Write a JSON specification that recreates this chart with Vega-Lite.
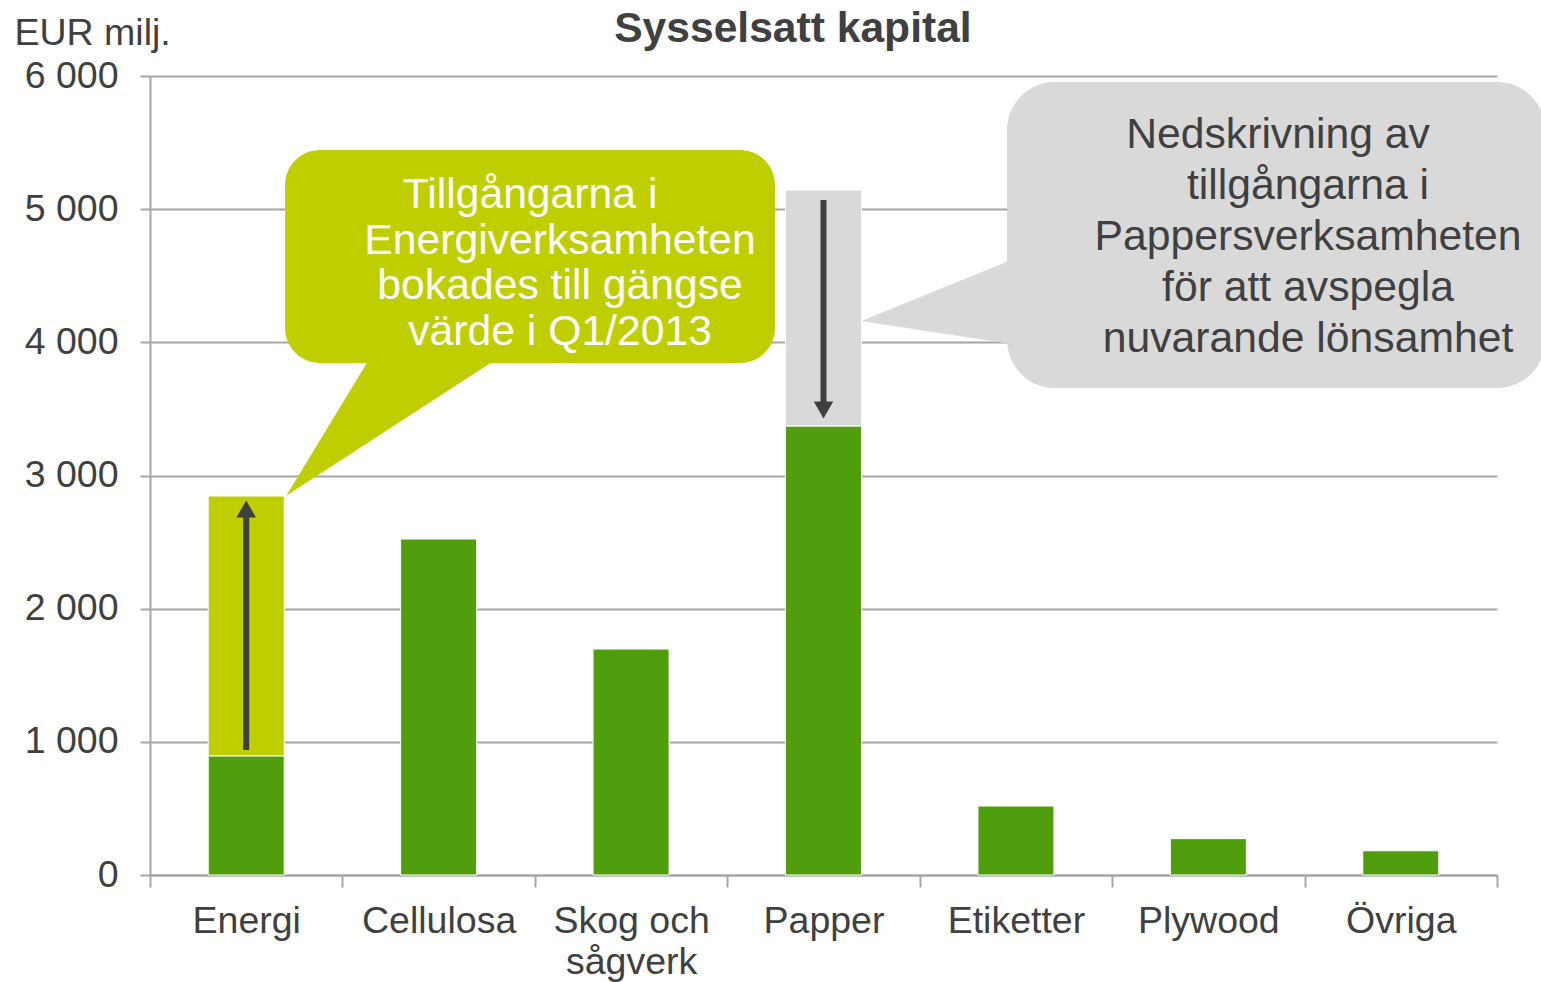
{
  "$schema": "https://vega.github.io/schema/vega-lite/v6.json",
  "width": 1347,
  "height": 799,
  "autosize": {"type": "none"},
  "padding": {"left": 150, "top": 76, "right": 44, "bottom": 107},
  "background": "white",
  "config": {"view": {"stroke": null}, "font": "Liberation Sans"},
  "datasets": {
    "bars": [
      {"cat": "Energi", "lo": 0, "hi": 895, "part": "Bokfört"},
      {"cat": "Energi", "lo": 895, "hi": 2846, "part": "Omvärdering"},
      {"cat": "Cellulosa", "lo": 0, "hi": 2523, "part": "Bokfört"},
      {"cat": "Skog och sågverk", "lo": 0, "hi": 1697, "part": "Bokfört"},
      {"cat": "Papper", "lo": 0, "hi": 3372, "part": "Bokfört"},
      {"cat": "Papper", "lo": 3372, "hi": 5144, "part": "Nedskrivning"},
      {"cat": "Etiketter", "lo": 0, "hi": 518, "part": "Bokfört"},
      {"cat": "Plywood", "lo": 0, "hi": 273, "part": "Bokfört"},
      {"cat": "Övriga", "lo": 0, "hi": 182, "part": "Bokfört"}
    ],
    "boxes": [
      {"id": "green", "u0": 0.702, "u1": 3.248, "v0": 3845, "v1": 5444},
      {"id": "grey", "u0": 4.454, "u1": 7.25, "v0": 3657, "v1": 5955}
    ],
    "pointers": [
      {"id": "green", "o": 1, "u": 1.151, "v": 3900},
      {"id": "green", "o": 2, "u": 1.826, "v": 3900},
      {"id": "green", "o": 3, "u": 0.712, "v": 2853},
      {"id": "grey", "o": 1, "u": 4.6, "v": 4689},
      {"id": "grey", "o": 2, "u": 3.7, "v": 4160},
      {"id": "grey", "o": 3, "u": 4.6, "v": 3963}
    ],
    "arrows": [
      {"id": "up", "u": 0.5, "v0": 939, "v1": 2726, "hv": 2748, "shape": "triangle-up"},
      {"id": "down", "u": 3.5, "v0": 5069, "v1": 3530, "hv": 3492, "shape": "triangle-down"}
    ],
    "notes": [
      {"id": "green", "u": 1.975, "v": 5009, "t": "Tillgångarna i"},
      {"id": "green", "u": 2.131, "v": 4667, "t": "Energiverksamheten\nbokades till gängse\nvärde i Q1/2013"},
      {"id": "grey", "u": 5.862, "v": 5459, "t": "Nedskrivning av"},
      {"id": "grey", "u": 6.018, "v": 5076, "t": "tillgångarna i\nPappersverksamheten\nför att avspegla\nnuvarande lönsamhet"}
    ],
    "heading": [
      {"u": 3.341, "v": 6255, "t": "Sysselsatt kapital"}
    ]
  },
  "layer": [
    {
      "data": {"name": "bars"},
      "mark": {"type": "bar", "stroke": "white", "strokeWidth": 1, "width": {"band": 0.395}},
      "encoding": {
        "x": {
          "field": "cat", "type": "nominal",
          "sort": ["Energi", "Cellulosa", "Skog och sågverk", "Papper", "Etiketter", "Plywood", "Övriga"],
          "scale": {"paddingInner": 0, "paddingOuter": 0},
          "axis": {
            "title": null, "labelAngle": 0, "labelFontSize": 37.5, "labelColor": "#404040",
            "labelPadding": 15, "labelLineHeight": 41, "tickBand": "extent", "tickSize": 12,
            "tickColor": "#A6A6A6", "tickWidth": 2, "domainColor": "#A6A6A6", "domainWidth": 2,
            "labelExpr": "datum.label == 'Skog och sågverk' ? ['Skog och', 'sågverk'] : datum.label",
            "grid": false
          }
        },
        "y": {
          "field": "lo", "type": "quantitative",
          "scale": {"domain": [0, 6000], "nice": false},
          "axis": {
            "values": [0, 1000, 2000, 3000, 4000, 5000, 6000],
            "labelExpr": "datum.value >= 1000 ? format(datum.value / 1000, 'd') + ' 000' : '0'",
            "labelFontSize": 37.5, "labelColor": "#404040", "labelPadding": 22,
            "tickSize": 10, "tickColor": "#A6A6A6", "tickWidth": 2,
            "domainColor": "#A6A6A6", "domainWidth": 2,
            "grid": true, "gridColor": "#A6A6A6", "gridWidth": 2,
            "title": "EUR milj.", "titleAngle": 0, "titleAlign": "left", "titleBaseline": "alphabetic",
            "titleX": -136, "titleY": -32, "titleFontSize": 37.5, "titleFontWeight": "normal", "titleColor": "#404040"
          }
        },
        "y2": {"field": "hi"},
        "color": {
          "field": "part", "type": "nominal",
          "scale": {"domain": ["Bokfört", "Omvärdering", "Nedskrivning"], "range": ["#509E0D", "#BFCE00", "#D9D9D9"]},
          "legend": null
        }
      }
    },
    {
      "data": {"name": "pointers"},
      "transform": [{"filter": "datum.id == 'green'"}],
      "mark": {"type": "line", "interpolate": "linear-closed", "fill": "#BFCE00", "stroke": "#BFCE00", "strokeWidth": 0.5},
      "encoding": {
        "x": {"field": "u", "type": "quantitative", "scale": {"domain": [0, 7], "nice": false, "zero": false}, "axis": null},
        "y": {"field": "v", "type": "quantitative", "scale": {"domain": [0, 6000], "nice": false}, "axis": null},
        "order": {"field": "o"}
      }
    },
    {
      "data": {"name": "boxes"},
      "transform": [{"filter": "datum.id == 'green'"}],
      "mark": {"type": "rect", "color": "#BFCE00", "cornerRadius": 35},
      "encoding": {
        "x": {"field": "u0", "type": "quantitative", "scale": {"domain": [0, 7], "nice": false, "zero": false}, "axis": null},
        "x2": {"field": "u1"},
        "y": {"field": "v0", "type": "quantitative", "scale": {"domain": [0, 6000], "nice": false}, "axis": null},
        "y2": {"field": "v1"}
      }
    },
    {
      "data": {"name": "pointers"},
      "transform": [{"filter": "datum.id == 'grey'"}],
      "mark": {"type": "line", "interpolate": "linear-closed", "fill": "#D9D9D9", "stroke": "#D9D9D9", "strokeWidth": 0.5},
      "encoding": {
        "x": {"field": "u", "type": "quantitative", "scale": {"domain": [0, 7], "nice": false, "zero": false}, "axis": null},
        "y": {"field": "v", "type": "quantitative", "scale": {"domain": [0, 6000], "nice": false}, "axis": null},
        "order": {"field": "o"}
      }
    },
    {
      "data": {"name": "boxes"},
      "transform": [{"filter": "datum.id == 'grey'"}],
      "mark": {"type": "rect", "color": "#D9D9D9", "cornerRadius": 48},
      "encoding": {
        "x": {"field": "u0", "type": "quantitative", "scale": {"domain": [0, 7], "nice": false, "zero": false}, "axis": null},
        "x2": {"field": "u1"},
        "y": {"field": "v0", "type": "quantitative", "scale": {"domain": [0, 6000], "nice": false}, "axis": null},
        "y2": {"field": "v1"}
      }
    },
    {
      "data": {"name": "arrows"},
      "mark": {"type": "rule", "color": "#404040", "strokeWidth": 6},
      "encoding": {
        "x": {"field": "u", "type": "quantitative", "scale": {"domain": [0, 7], "nice": false, "zero": false}, "axis": null},
        "y": {"field": "v0", "type": "quantitative", "scale": {"domain": [0, 6000], "nice": false}, "axis": null},
        "y2": {"field": "v1"}
      }
    },
    {
      "data": {"name": "arrows"},
      "mark": {"type": "point", "filled": true, "color": "#404040", "opacity": 1, "size": 380, "strokeWidth": 0},
      "encoding": {
        "x": {"field": "u", "type": "quantitative", "scale": {"domain": [0, 7], "nice": false, "zero": false}, "axis": null},
        "y": {"field": "hv", "type": "quantitative", "scale": {"domain": [0, 6000], "nice": false}, "axis": null},
        "shape": {"field": "shape", "type": "nominal", "scale": null, "legend": null}
      }
    },
    {
      "data": {"name": "notes"},
      "transform": [{"filter": "datum.id == 'green'"}],
      "mark": {"type": "text", "color": "white", "fontSize": 42.7, "lineHeight": 45.5, "lineBreak": "\n", "align": "center", "baseline": "alphabetic", "font": "Liberation Sans"},
      "encoding": {
        "x": {"field": "u", "type": "quantitative", "scale": {"domain": [0, 7], "nice": false, "zero": false}, "axis": null},
        "y": {"field": "v", "type": "quantitative", "scale": {"domain": [0, 6000], "nice": false}, "axis": null},
        "text": {"field": "t", "type": "nominal"}
      }
    },
    {
      "data": {"name": "notes"},
      "transform": [{"filter": "datum.id == 'grey'"}],
      "mark": {"type": "text", "color": "#404040", "fontSize": 42.7, "lineHeight": 51, "lineBreak": "\n", "align": "center", "baseline": "alphabetic", "font": "Liberation Sans"},
      "encoding": {
        "x": {"field": "u", "type": "quantitative", "scale": {"domain": [0, 7], "nice": false, "zero": false}, "axis": null},
        "y": {"field": "v", "type": "quantitative", "scale": {"domain": [0, 6000], "nice": false}, "axis": null},
        "text": {"field": "t", "type": "nominal"}
      }
    },
    {
      "data": {"name": "heading"},
      "mark": {"type": "text", "color": "#404040", "fontSize": 42.6, "fontWeight": "bold", "align": "center", "baseline": "alphabetic", "font": "Liberation Sans"},
      "encoding": {
        "x": {"field": "u", "type": "quantitative", "scale": {"domain": [0, 7], "nice": false, "zero": false}, "axis": null},
        "y": {"field": "v", "type": "quantitative", "scale": {"domain": [0, 6000], "nice": false}, "axis": null},
        "text": {"field": "t", "type": "nominal"}
      }
    }
  ],
  "resolve": {"scale": {"x": "independent", "y": "independent"}}
}
